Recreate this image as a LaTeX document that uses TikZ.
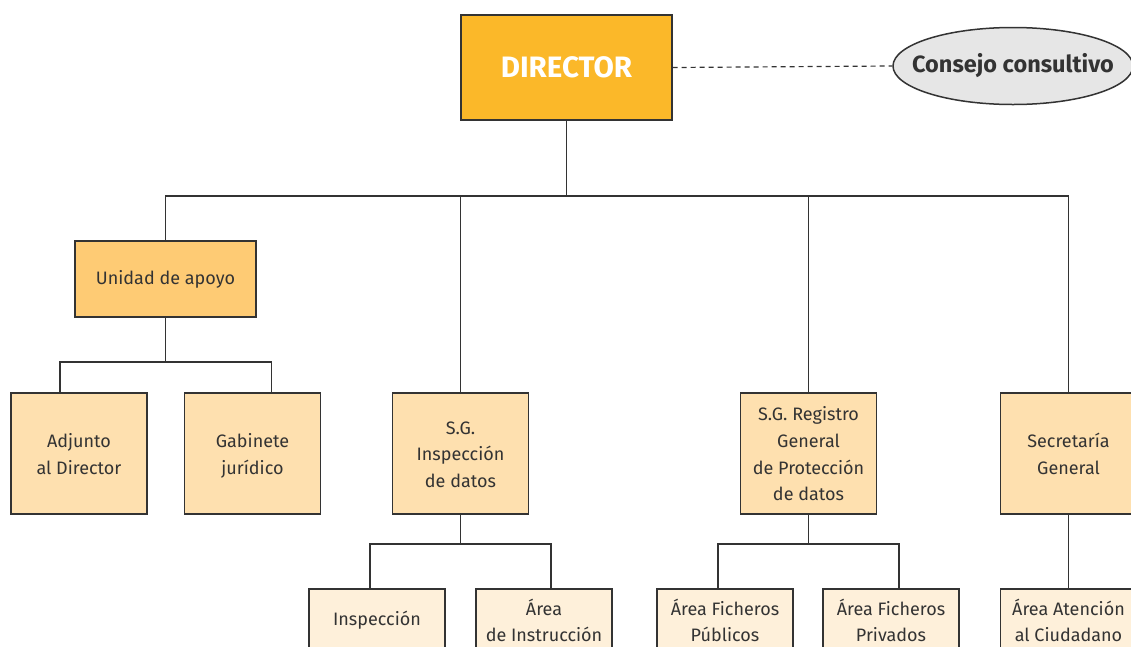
\documentclass[tikz,border=0pt]{standalone}
\usepackage{fontspec}
\setmainfont{Fira Sans}
\usetikzlibrary{shapes.geometric}
\definecolor{linec}{HTML}{333333}
\definecolor{textc}{HTML}{333333}
\definecolor{dirc}{HTML}{FBB829}
\definecolor{conc}{HTML}{E6E6E6}
\definecolor{lvlone}{HTML}{FECB74}
\definecolor{lvltwo}{HTML}{FEE0AF}
\definecolor{lvlthree}{HTML}{FEF0DA}
\newcommand{\midstrut}{\rule{0pt}{22.7pt}}
\newcommand{\lowstrut}{\rule{0pt}{24.7pt}}
\tikzset{
  box/.style={draw=linec, line width=1.2pt, align=center, text=textc, inner sep=0pt,
    font=\fontsize{18}{26.7}\selectfont},
  topbox/.style={box, fill=lvlone, minimum width=181pt, minimum height=76pt},
  midbox/.style={box, fill=lvltwo, minimum width=136pt, minimum height=121pt},
  lowbox/.style={box, fill=lvlthree, minimum width=136pt, minimum height=62pt},
  conn/.style={draw=linec, line width=1.2pt},
}
\begin{document}
\begin{tikzpicture}[x=1pt,y=-1pt]
\clip (0,0) rectangle (1131,646);
\fill[white] (0,0) rectangle (1131,646);
\node[box, fill=dirc, minimum width=211pt, minimum height=105pt, text=white,
  font=\fontsize{29.5}{29.5}\selectfont\bfseries] (dir) at (566.5,67.5) {DIRECTOR};
\node[ellipse, draw=linec, line width=1.5pt, fill=conc, minimum width=240pt, minimum height=77pt,
  inner sep=0pt] (cons) at (1013,66) {};
\node[text=textc, font=\fontsize{23.5}{23.5}\selectfont\bfseries, inner sep=0pt] (constext) at (cons.center) {Consejo consultivo};
\node[topbox] (uni) at (165.5,279) {Unidad de apoyo};
\node[midbox] (adj) at (79,453.5) {\midstrut Adjunto\\al Director\strut};
\node[midbox] (gab) at (252.5,453.5) {\midstrut Gabinete\\jurídico\strut};
\node[midbox] (insp) at (460.5,453.5) {\midstrut S.G.\\Inspección\\de datos\strut};
\node[midbox] (reg) at (808.5,453.5) {\midstrut S.G. Registro\\General\\de Protección\\de datos\strut};
\node[midbox] (sec) at (1068.5,453.5) {\midstrut Secretaría\\General\strut};
\node[lowbox] (ins) at (377,620) {Inspección};
\node[lowbox] (ari) at (544,620) {\lowstrut Área\\de Instrucción\strut};
\node[lowbox] (fpu) at (725,620) {\lowstrut Área Ficheros\\Públicos\strut};
\node[lowbox] (fpr) at (891,620) {\lowstrut Área Ficheros\\Privados\strut};
\node[lowbox] (ate) at (1068.5,620) {\lowstrut Área Atención\\al Ciudadano\strut};
\coordinate (busa) at (566.5,196);
\coordinate (busb) at (165.5,362);
\coordinate (busc) at (460.5,544);
\coordinate (busd) at (808.5,544);
\draw[conn, dash pattern=on 5pt off 4pt] (dir.east) -- (cons.west);
\draw[conn] (dir.south) -- (busa);
\draw[conn] (uni.north) -- (uni.north |- busa) -- (sec.north |- busa) -- (sec.north);
\draw[conn] (insp.north) -- (insp.north |- busa);
\draw[conn] (reg.north) -- (reg.north |- busa);
\draw[conn] (uni.south) -- (busb);
\draw[conn] ([xshift=-19pt]adj.north) -- ([xshift=-19pt]adj.north |- busb) -- ([xshift=19pt]gab.north |- busb) -- ([xshift=19pt]gab.north);
\draw[conn] (insp.south) -- (busc);
\draw[conn] ([xshift=-7pt]ins.north) -- ([xshift=-7pt]ins.north |- busc) -- ([xshift=7pt]ari.north |- busc) -- ([xshift=7pt]ari.north);
\draw[conn] (reg.south) -- (busd);
\draw[conn] ([xshift=-7pt]fpu.north) -- ([xshift=-7pt]fpu.north |- busd) -- ([xshift=8pt]fpr.north |- busd) -- ([xshift=8pt]fpr.north);
\draw[conn] (sec.south) -- (ate.north);
\end{tikzpicture}
\end{document}
